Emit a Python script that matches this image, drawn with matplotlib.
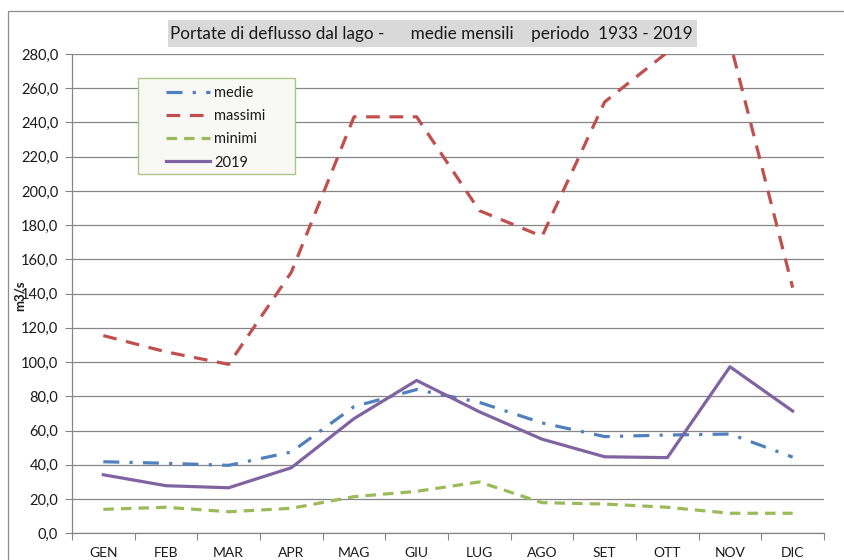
import matplotlib
matplotlib.use("Agg")
import matplotlib.pyplot as plt
from matplotlib.patches import Rectangle
import numpy as np

plt.rcParams['font.family'] = ['Lato', 'DejaVu Sans']

months = ["GEN", "FEB", "MAR", "APR", "MAG", "GIU", "LUG", "AGO", "SET", "OTT", "NOV", "DIC"]
medie = [41.8, 40.9, 39.7, 47.5, 74.0, 84.0, 76.5, 64.5, 56.5, 57.4, 58.0, 44.5]
massimi = [115.5, 106.0, 98.7, 152.5, 243.3, 243.3, 188.5, 173.5, 252.0, 281.0, 287.0, 143.5]
minimi = [14.0, 15.2, 12.6, 14.6, 21.4, 24.5, 30.0, 17.9, 17.1, 15.2, 11.7, 11.7]
y2019 = [34.2, 27.8, 26.6, 38.3, 67.0, 89.3, 71.0, 55.0, 44.7, 44.2, 97.3, 71.4]
yticks = np.arange(0, 281, 20)
title = "Portate di deflusso dal lago -      medie mensili    periodo  1933 - 2019"

W, H = 844, 560
fig = plt.figure(figsize=(W / 100, H / 100), dpi=100)
ax = fig.add_axes([72 / W, 1 - 533.3 / H, (824 - 72) / W, (533.3 - 54) / H])

x = np.arange(len(months))
lw = 2.3
ax.plot(x, medie, color="#4F81BD", lw=lw, dashes=(5, 3.2, 1, 3.2), label="medie", zorder=3)
ax.plot(x, massimi, color="#C0504D", lw=lw, dashes=(4.3, 3.0), label="massimi", zorder=3)
ax.plot(x, minimi, color="#9BBB59", lw=lw, dashes=(3.3, 2.2), label="minimi", zorder=3)
ax.plot(x, y2019, color="#8064A2", lw=lw, label="2019", zorder=4)

ax.set_xlim(-0.5, len(months) - 0.5)
ax.set_ylim(0, 280)
ax.set_yticks(yticks)
ax.set_yticklabels([f"{v:.1f}".replace(".", ",") for v in yticks])
ax.set_xticks(x)
ax.set_xticklabels(months)
ax.set_xticks(np.arange(-0.5, len(months)), minor=True)
ax.tick_params(axis="x", which="major", length=0, pad=10, labelsize=10, labelcolor="#1a1a1a")
ax.tick_params(axis="x", which="minor", length=5, color="#868686", width=0.8)
ax.tick_params(axis="y", length=5, color="#868686", width=0.8, labelsize=10.5, labelcolor="#1a1a1a", pad=5)
ax.grid(axis="y", color="#868686", lw=0.9)
ax.set_axisbelow(True)
for s in ["top", "right"]:
    ax.spines[s].set_visible(False)
for s in ["left", "bottom"]:
    ax.spines[s].set_color("#868686")
    ax.spines[s].set_linewidth(0.9)

# outer chart frame
fig.patches.append(Rectangle((8 / W, -0.1), 1.2, 1.1 - 11 / H, transform=fig.transFigure,
                             facecolor="none", edgecolor="#8c8c8c", lw=0.9, zorder=0))

# title box
fig.patches.append(Rectangle((168 / W, 1 - 47 / H), (697 - 168) / W, 27 / H, transform=fig.transFigure,
                             facecolor="#D9D9D9", edgecolor="none", zorder=2))
fig.text(431.5 / W, 1 - 34 / H, title, ha="center", va="center", fontsize=12.3, color="#1a1a1a", zorder=3)

# y label
fig.text(20 / W, 1 - 296 / H, "m3/s", rotation=90, ha="center", va="center", fontsize=9.5,
         fontweight="bold", color="#1a1a1a", zorder=3)

# legend box
fig.patches.append(Rectangle((138 / W, 1 - 174 / H), (295 - 138) / W, (174 - 78) / H, transform=fig.transFigure,
                             facecolor="#F8F9F6", edgecolor="#AFC786", lw=1.0, zorder=4))
handles, labels = ax.get_legend_handles_labels()
leg = fig.legend(handles, labels, loc="upper left", bbox_to_anchor=(166 / W, 1 - 86 / H),
                 frameon=False, borderpad=0, borderaxespad=0, handlelength=3.0, handletextpad=0.3,
                 labelspacing=0.63, fontsize=10.5)
leg.set_zorder(5)
for t in leg.get_texts():
    t.set_color("#1a1a1a")

fig.savefig("out.png", dpi=100)
